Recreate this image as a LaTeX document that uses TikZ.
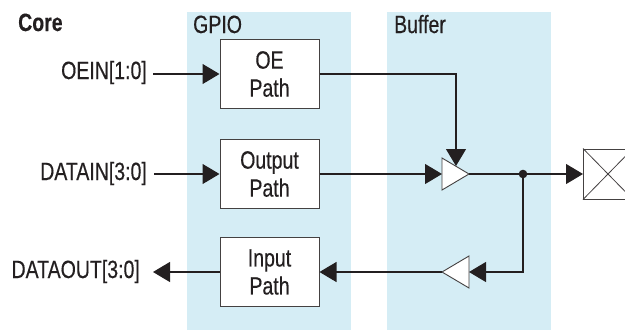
\documentclass[tikz,border=0pt]{standalone}
\usepackage{fontspec}
\setmainfont[FakeStretch=0.78,FakeBold=0.35]{Liberation Sans}
\usetikzlibrary{arrows.meta,calc}
\definecolor{band}{RGB}{213,237,245}
\definecolor{ink}{RGB}{35,31,32}
\begin{document}
\begin{tikzpicture}[x=1pt,y=-1pt,
  txt/.style={font=\fontsize{25}{28}\selectfont, inner sep=0pt, text=ink},
  blk/.style={txt, draw=ink!85, line width=1pt, fill=white, minimum width=99pt, minimum height=69pt, align=center},
  wire/.style={draw=ink, line width=1.1pt},
  arr/.style={wire, -{Triangle[length=17pt,width=20pt]}},
  buf/.style={draw=ink!85, line width=0.9pt, fill=white}]
\useasboundingbox (0,0) rectangle (625,330);
\clip (0,0) rectangle (625,330);
% bands
\fill[band] (187,12) rectangle (351,330);
\fill[band] (387,12) rectangle (551,330);
% headers
\node[txt, font=\bfseries\fontsize{25}{28}\selectfont, anchor=base west] (core) at (18,31) {Core};
\node[txt, anchor=base west] (gpio) at (193,33) {GPIO};
\node[txt, anchor=base west] (buffer) at (394,33) {Buffer};
% blocks
\node[blk] (oe) at (269.5,74) {OE\\Path};
\node[blk] (out) at (269.5,174) {Output\\Path};
\node[blk] (in) at (269.5,272) {Input\\Path};
% side labels
\node[txt, anchor=base east] (oein) at (147,79) {OEIN[1:0]};
\node[txt, anchor=base east] (datain) at (147,180) {DATAIN[3:0]};
\node[txt, anchor=base east] (dataout) at (140,278) {DATAOUT[3:0]};
% buffers (triangles)
\coordinate (t1w) at (442,174);
\coordinate (t1e) at (469,174);
\coordinate (t1n) at (456,166);
\draw[buf] (442,158) -- (469,174) -- (442,190) -- cycle;
\coordinate (t2e) at (469,272);
\coordinate (t2w) at (442,272);
\draw[buf] (469,256) -- (442,272) -- (469,288) -- cycle;
% pad
\node[draw=ink!85, line width=1pt, minimum width=49pt, minimum height=50pt, inner sep=0pt, anchor=west] (pad) at (583,174) {};
\draw[ink!85, line width=0.8pt] (pad.north west) -- (pad.south east) (pad.south west) -- (pad.north east);
% junction
\coordinate (j) at (523,174);
\coordinate (jb) at (523,272);
\coordinate (oec) at (456,74);
% connectors
\draw[arr] ([xshift=6pt]oein.east |- oe.west) -- (oe.west);
\draw[arr] ([xshift=7pt]datain.east |- out.west) -- (out.west);
\draw[arr] (in.west) -- ([xshift=13pt]dataout.east |- in.west);
\draw[arr] (oe.east) -- (oec) -- (t1n);
\draw[arr] (out.east) -- (t1w);
\draw[arr] (t1e) -- (pad.west);
\draw[arr] (j) -- (jb) -- (t2e);
\draw[arr] (t2w) -- (in.east);
\fill[ink] (j) circle (4.3pt);
\end{tikzpicture}
\end{document}
